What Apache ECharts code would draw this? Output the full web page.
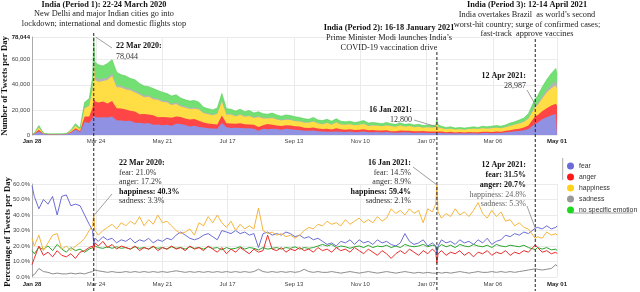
<!DOCTYPE html>
<html><head><meta charset="utf-8">
<script src="https://cdn.jsdelivr.net/npm/echarts@6/dist/echarts.min.js"></script>
<style>html,body{margin:0;padding:0;background:#fff}#c{width:640px;height:292px}</style>
</head><body><div id="c"></div>
<script>
// Day offsets from 28 Jan 2020
const days = [0,2,6,10,14,18,22,26,30,34,38,42,46,50,
  53,54,55,
  58,62,66,70,74,78,82,86,90,94,
  98,102,106,110,114,118,122,126,130,134,
  138,142,146,150,154,158,162,166,170,174,
  178,182,186,190,194,198,202,206,210,214,
  218,222,226,230,234,238,242,246,250,254,
  258,262,266,270,274,278,282,286,290,294,
  298,302,306,310,314,318,322,326,330,334,
  338,342,346,350,
  353,354,355,
  358,362,366,370,374,378,382,386,390,394,
  398,402,406,410,414,418,422,426,430,434,
  440,442,446,450,454,458,459];

const totalTweets = [500,1500,7500,1500,1000,900,1000,1000,1200,4000,9000,5500,26000,29000,
  46000,78044,58000,
  56000,55000,57000,60000,50000,48000,47000,45000,44000,41000,
  39000,38500,37000,35500,34000,33000,31000,32000,29500,28000,
  27000,27500,26000,22000,21000,20000,21500,33000,21000,20500,
  19000,20500,18500,19500,17500,18500,17000,16500,17500,16000,
  15000,16000,15500,14500,14000,13000,12500,14000,12000,11500,
  12500,11000,13000,11000,10500,11000,10000,10500,11500,9500,
  10000,9500,9000,10000,9000,8500,9500,8500,9000,8000,
  8500,7500,8000,7500,
  8000,12800,8000,
  7000,6000,6500,5500,6000,5500,6000,6500,6000,7000,
  6500,7000,7500,7000,8000,9500,10500,12000,13500,17000,
  28987,31000,38000,44000,49000,53000,48000];

const fearPct = [59,52,44,50,47,52,40,52,53,46,47,46,40,34,
  30,21.0,25,
  23,26,24,25,22,24,23,25,22,24,
  23,25,22,24,23,25,24,27,29,27,
  25,24,25,27,28,26,24,30,29,28,
  30,28,29,27,28,19,28,29,27,28,
  27,29,28,26,27,25,26,24,25,23,
  21,22,20,23,22,24,21,24,22,23,
  21,24,22,23,21,20,22,28,23,21,
  22,24,20,22,
  20,14.5,20,
  24,22,23,21,24,22,23,21,24,22,
  25,21,23,24,27,26,28,27,29,28,
  31.5,32,31,33,31,32,33];

const angerPct = [8,12,20,14,16,13,17,14,13,15,12,16,17,19,
  20,17.2,22,
  20,23,19,21,18,20,19,18,20,17,
  19,18,20,17,19,18,20,18,19,17,
  20,18,19,17,20,18,16,19,15,18,
  16,19,17,15,18,16,17,27,18,17,
  19,16,18,17,19,17,18,16,19,17,
  18,16,19,17,18,16,19,17,15,18,
  16,14,17,15,12,15,17,15,18,16,
  14,17,15,18,
  16,8.9,15,
  17,14,16,15,17,14,16,13,16,15,
  17,14,16,15,17,14,16,15,17,16,
  20.7,19,16,17,15,16,15];

const happinessPct = [25,20,27,17,22,27,28,18,20,17,20,22,25,30,
  33,40.3,30,
  27,30,32,34,31,35,33,36,34,39,
  33,37,34,40,35,36,33,30,28,29,
  31,27,35,33,39,35,40,35,32,36,
  30,34,31,33,31,44.5,30,28,29,27,
  28,26,27,25,27,30,32,31,34,33,
  36,34,35,33,37,34,36,38,35,37,
  35,39,36,38,44,41,43,40,44,41,
  43,35,44,42,
  47,59.4,42,
  38,41,39,44,40,42,39,43,48,41,
  38,43,39,42,36,37,33,35,32,31,
  24.8,26,25,29,27,28,27];

const sadnessPct = [1,1.5,5.5,3.5,3,2,2.5,2,2,2.5,2,2.5,2,3,
  3.5,3.3,4.5,
  4,3.5,3,3.5,3,3,3.5,3,3.5,3,
  3.5,3,3.5,3,3.5,3,3.5,4,3.5,3,
  3.5,3,3.5,3,3.5,3,3.5,3,3.5,3,
  3.5,3,3.5,3,3.5,5,3.5,3,3.5,3,
  3.5,3,3.5,3,3.5,5,3.5,3,3.5,3,
  3,3.5,3,2.5,3,3.5,3,2.5,3,3.5,
  3,2.5,3,3.5,3,2.5,3,3.5,3,2.5,
  3,2.5,3,2.5,
  2.5,2.1,3,
  2.5,3,2.5,3,3.5,3,2.5,3,3.5,3,
  3,3.5,3,3.5,3,3.5,3,3.5,4,4.5,
  5.3,5,4.5,5,5.5,8,7];

const noEmotionPct = [17,15,19,18,20,17,21,18,16,19,17,18,16,18,
  19,18.2,20,
  19,18.5,19.5,18.5,19.5,18.5,19,18,19.5,18.5,
  19,18,19.5,18.5,19,18,19.5,18.5,19,18,
  19.5,18.5,19,18,19.5,18.5,19,17.5,19,18,
  18.5,19.5,18,19,18.5,17.5,19,18,18.5,19,
  18,19,18.5,19.5,18,19,18.5,19,20,21,
  20,21,19,20,19.5,18.5,19.5,20,19,20.5,
  19,20,19.5,20.5,19,20,19,21,20,19.5,
  20,21,19.5,20.5,
  20,15.1,19,
  21,19.5,20.5,19,21,20,19.5,21,20,19.5,
  20.5,19,21,20,19.5,20.5,20,19.5,20.5,19,
  17.7,19,18,19,17.5,18,17];

const tickDays = [0,56,114,171,229,287,345,403,459];
const tickLabels = ['Jan 28','Mar 24','May 21','Jul 17','Sep 13','Nov 10','Jan 07','Mar 06','May 01'];
const countTicks = [0,20000,40000,60000,78044];
const emotionNames = ['fear','anger','happiness','sadness','no specific emotion'];

const pctSeries = [fearPct, angerPct, happinessPct, sadnessPct, noEmotionPct];
const areaColors = ['#9191e3','#ff4646','#ffde45','#b4b4b4','#72e072'];
const lineColors = ['#6d6dd4','#ec2c2c','#f5b43c','#8c8c8c','#2ca52c'];
const legendColors = ['#6a6ad8','#ff1a1a','#ffd21a','#9a9a9a','#1ed81e'];

// cumulative tweet counts (fear at bottom, then anger, happiness, sadness, no emotion on top)
function cumulative(k){
  return days.map((d,i)=>{
    let s = 0, c = 0;
    pctSeries.forEach((a,j)=>{ s += a[i]; if (j<=k) c += a[i]; });
    return [d, totalTweets[i]*c/s];
  });
}
function pcts(k){ return days.map((d,i)=>[d, pctSeries[k][i]]); }

const SANS = '"Liberation Sans", Arial, sans-serif';
const SERIF = '"Liberation Serif", "Times New Roman", serif';
const AX = 6;

function xAxis(gi){
  return {
    type:'value', gridIndex:gi, min:0, max:459,
    axisLine:{show:false},
    axisTick:{show:true, length:0, customValues:tickDays},
    axisLabel:{customValues:tickDays, fontSize:AX, color:'#444', fontFamily:SANS, margin: gi?4:3,
      formatter: v => { const i = tickDays.indexOf(Math.round(v)); const t = i>=0 ? tickLabels[i] : '';
        return (i===0 || i===tickDays.length-1) ? '{b|'+t+'}' : t; },
      rich:{b:{fontWeight:'bold', fontSize:AX, color:'#222', fontFamily:SANS}}},
    splitLine:{show:true, lineStyle:{color:'#ebebeb', width:1}}
  };
}

const series = [];
[4,3,2,1,0].forEach(k=>{
  series.push({name:emotionNames[k], type:'line', xAxisIndex:0, yAxisIndex:0, symbol:'none',
    lineStyle:{width: k===4 ? 0.6 : 0, color: k===4 ? '#55cc55' : areaColors[k]},
    areaStyle:{color:areaColors[k], opacity:1, origin:'start'}, itemStyle:{color:areaColors[k]},
    data:cumulative(k), silent:true});
});
[3,4,1,0,2].forEach(k=>{
  series.push({name:emotionNames[k], type:'line', xAxisIndex:1, yAxisIndex:1, symbol:'none',
    lineStyle:{width:1, color:lineColors[k]}, itemStyle:{color:lineColors[k]}, data:pcts(k), silent:true});
});

const chart = echarts.init(document.getElementById('c'), null, {renderer:'canvas'});
chart.setOption({
  animation:false,
  backgroundColor:'#fff',
  grid:[{left:32, right:83, top:37, bottom:157}, {left:32, right:83, top:184, bottom:15}],
  xAxis:[xAxis(0), xAxis(1)],
  yAxis:[
    {type:'value', gridIndex:0, min:0, max:78044,
     axisLine:{show:true, lineStyle:{color:'#aaa'}},
     axisTick:{show:true, length:0, customValues:countTicks},
     axisLabel:{customValues:countTicks, fontSize:AX, color:'#444', fontFamily:SANS, margin:2,
       formatter: v => { const s = Math.round(v).toString().replace(/\B(?=(\d{3})+(?!\d))/g, ',');
         return v===78044 ? '{b|'+s+'}' : s; },
       rich:{b:{fontWeight:'bold', fontSize:AX, color:'#222', fontFamily:SANS}}},
     splitLine:{show:true, lineStyle:{color:'#ebebeb'}}},
    {type:'value', gridIndex:1, min:0, max:60, interval:10,
     axisLine:{show:true, lineStyle:{color:'#aaa'}},
     axisTick:{show:false},
     axisLabel:{fontSize:AX, color:'#444', fontFamily:SANS, margin:2, formatter: v => v.toFixed(1)+'%'},
     splitLine:{show:true, lineStyle:{color:'#ebebeb'}}}
  ],
  legend:{data: emotionNames.map((n,i)=>({name:n, itemStyle:{color:legendColors[i]}})),
    orient:'vertical', left:562, top:157.5, icon:'circle', itemWidth:7, itemHeight:7, itemGap:4,
    textStyle:{fontSize:6.8, color:'#333', fontFamily:SANS}},
  series: series
});

// annotations
const P = (gi, d, v) => chart.convertToPixel({gridIndex:gi}, [d, v]);
const g = [];
function txt(x, y, s, opt){
  opt = opt || {};
  g.push({type:'text', x:x, y:y, rotation: opt.rot || 0, z:100, silent:true,
    style:{text:s, fill: opt.fill || '#222', align: opt.align || 'left', verticalAlign:'middle',
      font: (opt.bold?'bold ':'') + (opt.size||8) + 'px ' + SERIF}});
}
function line(x1,y1,x2,y2,opt){
  opt = opt || {};
  g.push({type:'line', z:90, silent:true, shape:{x1:x1,y1:y1,x2:x2,y2:y2},
    style:{stroke: opt.stroke || '#888', lineWidth: opt.w || 0.8, lineDash: opt.dash || null}});
}

// axis titles
txt(4.5, 86, 'Number of Tweets per Day', {bold:true, size:8.7, align:'center', rot:Math.PI/2, fill:'#111'});
txt(8, 232, 'Percentage of Tweets per Day', {bold:true, size:8.7, align:'center', rot:Math.PI/2, fill:'#111'});

// vertical event lines
const dMar22 = 54, dJan16 = 354, dApr12 = 440;
const xMar22 = P(0, dMar22, 0)[0], xJan16 = P(0, dJan16, 0)[0], xApr12 = P(0, dApr12, 0)[0];
line(xMar22, 33, xMar22, 291, {stroke:'#222', w:1, dash:[3,2]});
line(xJan16, 52, xJan16, 291, {stroke:'#222', w:1, dash:[3,2]});
line(xApr12, 39, xApr12, 291, {stroke:'#222', w:1, dash:[3,2]});

// period texts
txt(104, 4.5, 'India (Period 1): 22-24 March 2020', {bold:true, size:8.3, align:'center', fill:'#111'});
txt(104, 14.3, 'New Delhi and major Indian cities go into', {size:8.3, align:'center'});
txt(104, 24, 'lockdown; international and domestic flights stop', {size:8.3, align:'center'});
txt(389, 27.8, 'India (Period 2): 16-18 January 2021', {bold:true, size:8.3, align:'center', fill:'#111'});
txt(389, 37.6, 'Prime Minister Modi launches India\u2019s', {size:8.3, align:'center'});
txt(389, 47.4, 'COVID-19 vaccination drive', {size:8.3, align:'center'});
txt(527, 5, 'India (Period 3): 12-14 April 2021', {bold:true, size:8.3, align:'center', fill:'#111'});
txt(527, 14.8, 'India overtakes Brazil  as world\u2019s second', {size:8.3, align:'center'});
txt(527, 24.5, 'worst-hit country; surge of confirmed cases;', {size:8.3, align:'center'});
txt(527, 34.2, 'fast-track  approve vaccines', {size:8.3, align:'center'});

// top callouts
const pk = P(0, dMar22, 78044);
line(pk[0]+2, pk[1], 112, 48);
txt(116, 46, '22 Mar 2020:', {bold:true, fill:'#111'});
txt(116, 57, '78,044', {fill:'#333'});
const jn = P(0, dJan16, 12800);
line(414, 120, jn[0], jn[1]+8);
txt(412, 110, '16 Jan 2021:', {bold:true, align:'right', fill:'#111'});
txt(412, 119.5, '12,800', {align:'right', fill:'#333'});
const ap = P(0, dApr12, 28987);
line(527, 90, ap[0], ap[1]+6);
txt(526, 76, '12 Apr 2021:', {bold:true, align:'right', fill:'#111'});
txt(526, 85.5, '28,987', {align:'right', fill:'#333'});

// bottom callouts
const b1 = P(1, dMar22, 40.3);
line(112, 194, b1[0]+1, b1[1]);
txt(119, 163, '22 Mar 2020:', {bold:true, fill:'#111'});
txt(119, 172.5, 'fear: 21.0%', {fill:'#333'});
txt(119, 182, 'anger: 17.2%', {fill:'#333'});
txt(119, 191.5, 'happiness: 40.3%', {bold:true, fill:'#111'});
txt(119, 201, 'sadness: 3.3%', {fill:'#333'});
const b2 = P(1, dJan16, 59.4);
line(413, 167, b2[0], b2[1]);
txt(411, 163, '16 Jan 2021:', {bold:true, align:'right', fill:'#111'});
txt(411, 172.5, 'fear: 14.5%', {align:'right', fill:'#333'});
txt(411, 182, 'anger: 8.9%', {align:'right', fill:'#333'});
txt(411, 191.5, 'happiness: 59.4%', {bold:true, align:'right', fill:'#111'});
txt(411, 201, 'sadness: 2.1%', {align:'right', fill:'#333'});
const b3 = P(1, dApr12, 31.5);
line(527, 206, b3[0], b3[1]);
txt(526, 165, '12 Apr 2021:', {bold:true, align:'right', fill:'#111'});
txt(526, 175, 'fear: 31.5%', {bold:true, align:'right', fill:'#111'});
txt(526, 185, 'anger: 20.7%', {bold:true, align:'right', fill:'#111'});
txt(526, 194.5, 'happiness: 24.8%', {align:'right', fill:'#666'});
txt(526, 204, 'sadness: 5.3%', {align:'right', fill:'#666'});

// legend frame remnants
line(562.7, 158, 562.7, 180, {stroke:'#aaa', w:1});
line(572, 213, 633, 213, {stroke:'#888', w:0.8});

chart.setOption({graphic: g});
</script></body></html>
